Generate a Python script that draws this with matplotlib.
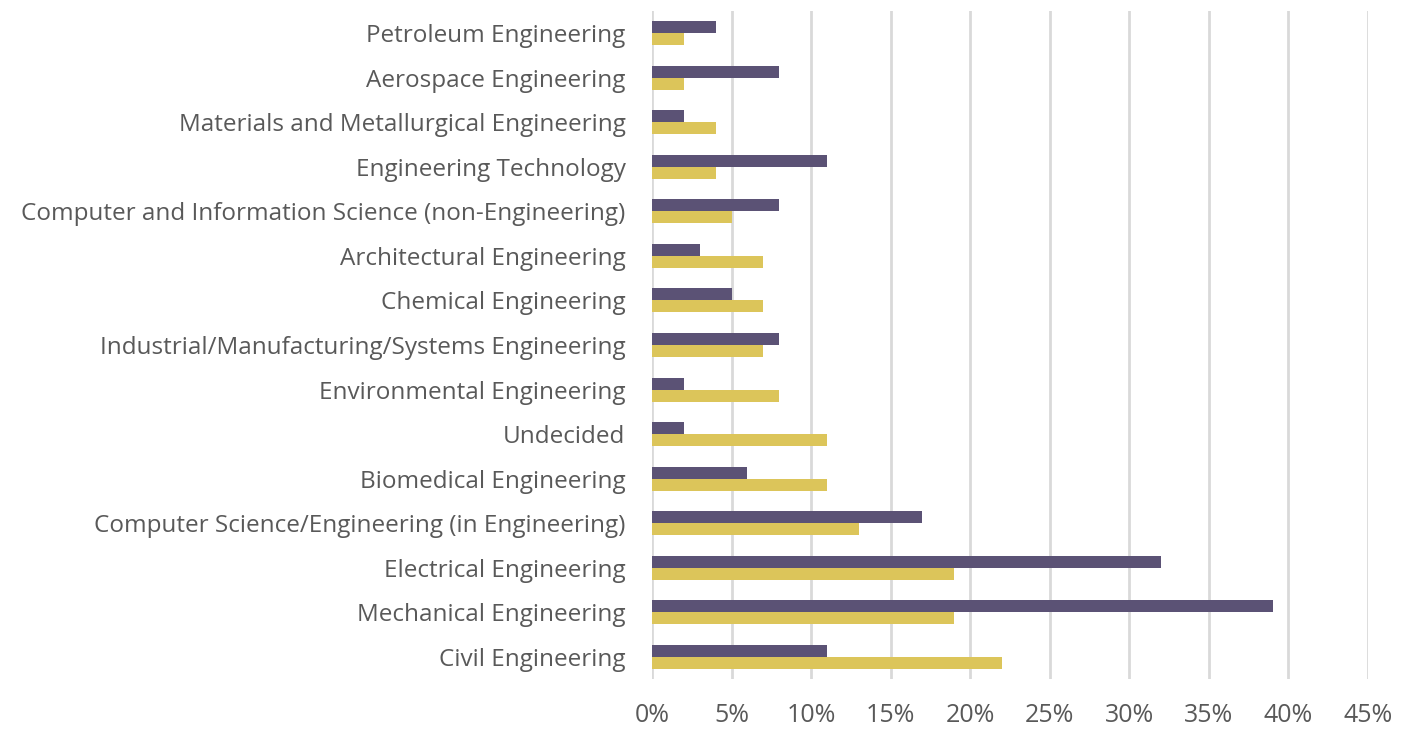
import matplotlib
matplotlib.use("Agg")
import matplotlib.pyplot as plt
import numpy as np
from matplotlib.ticker import PercentFormatter

# Ordre d'affichage, de haut en bas
majors = [
    "Petroleum Engineering",
    "Aerospace Engineering",
    "Materials and Metallurgical Engineering",
    "Engineering Technology",
    "Computer and Information Science (non-Engineering)",
    "Architectural Engineering",
    "Chemical Engineering",
    "Industrial/Manufacturing/Systems Engineering",
    "Environmental Engineering",
    "Undecided",
    "Biomedical Engineering",
    "Computer Science/Engineering (in Engineering)",
    "Electrical Engineering",
    "Mechanical Engineering",
    "Civil Engineering",
]
purple_vals = [4, 8, 2, 11, 8, 3, 5, 8, 2, 2, 6, 17, 32, 39, 11]
yellow_vals = [2, 2, 4, 4, 5, 7, 7, 7, 8, 11, 11, 13, 19, 19, 22]
xticks = [0, 5, 10, 15, 20, 25, 30, 35, 40, 45]

PURPLE = "#5b5275"
YELLOW = "#dcc55a"
TEXT = "#595959"
GRID = "#d9d9d9"

plt.rcParams["font.family"] = ["Open Sans", "DejaVu Sans"]

fig = plt.figure(figsize=(14.11, 7.34), dpi=100)
ax = fig.add_axes([652 / 1411, 1 - 679 / 734, (1368 - 652) / 1411, (679 - 11) / 734])

y = np.arange(len(majors))
h = 0.27
ax.barh(y - h / 2, purple_vals, height=h, color=PURPLE, zorder=3)
ax.barh(y + h / 2, yellow_vals, height=h, color=YELLOW, zorder=3)

ax.set_ylim(len(majors) - 0.5, -0.5)
ax.set_xlim(0, 45)
ax.set_xticks(xticks)
ax.xaxis.set_major_formatter(PercentFormatter(decimals=0))
ax.set_yticks(y)
ax.set_yticklabels(majors)

ax.grid(axis="x", color=GRID, linewidth=2, zorder=0)
for s in ax.spines.values():
    s.set_visible(False)
ax.tick_params(axis="both", length=0, colors=TEXT)
ax.tick_params(axis="y", labelsize=17.5, pad=19)
ax.tick_params(axis="x", labelsize=18, pad=17)

fig.savefig("out.png", dpi=100)
